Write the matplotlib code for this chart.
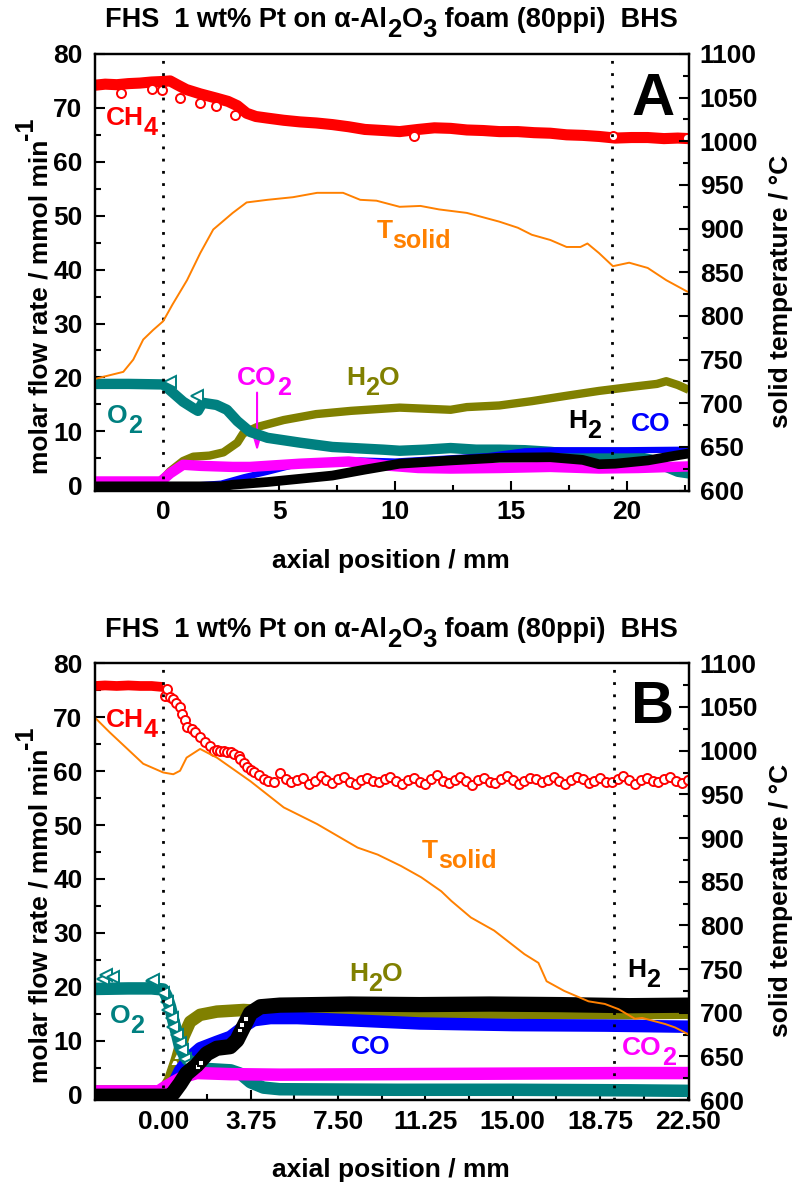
import matplotlib
matplotlib.use('Agg')
import matplotlib.pyplot as plt
from matplotlib.ticker import MultipleLocator
from matplotlib.transforms import offset_copy

plt.rcParams['font.family'] = ['Liberation Sans', 'DejaVu Sans']
plt.rcParams['font.weight'] = 'bold'

# ---------------- panel A data (axial position in mm) ----------------
a_ch4_x = [-2.94, -2.5, -2.0, -1.5, -1.0, -0.5, 0.0, 0.3, 0.6, 1.0, 1.6, 2.3, 2.8, 3.2, 3.6, 4.0,
           4.5, 5.2, 5.9, 6.6, 7.3, 8.0, 8.7, 9.5, 10.2, 11.0, 11.7, 12.4, 13.1, 13.8, 14.5,
           15.3, 16.0, 16.7, 17.4, 18.1, 18.8, 19.5, 20.2, 20.9, 21.6, 22.2, 22.67]
a_ch4 = [74.2, 74.4, 74.3, 74.5, 74.6, 74.8, 74.9, 75.0, 74.3, 73.4, 72.6, 71.8, 71.2, 70.4, 69.0, 68.4,
         68.1, 67.7, 67.4, 67.2, 66.9, 66.5, 66.0, 65.8, 65.6, 66.0, 66.3, 66.2, 65.9, 65.8, 65.6,
         65.6, 65.4, 65.3, 65.0, 64.9, 64.7, 64.4, 64.5, 64.5, 64.3, 64.4, 64.3]
a_ch4_pts_x = [-1.8, -0.5, -0.07, 0.72, 1.58, 2.3, 3.1, 10.8, 19.4, 22.6]
a_ch4_pts = [72.7, 73.5, 73.4, 71.8, 70.9, 70.3, 68.7, 64.7, 64.8, 64.5]

a_o2_x = [-2.94, -1.5, 0.0, 0.3, 0.86, 1.3, 1.5, 1.7, 2.3, 2.75, 3.2, 3.75, 4.5, 5.9, 7.3, 9.5,
          10.2, 11.3, 12.4, 13.5, 14.5, 15.6, 16.7, 18.1, 19.1, 20.3, 21.0, 21.7, 22.2, 22.67]
a_o2 = [18.8, 18.8, 18.7, 17.6, 15.5, 14.3, 13.8, 15.3, 14.9, 14.0, 11.9, 9.9, 8.8, 7.9, 7.1, 6.6,
        6.4, 6.6, 6.9, 6.6, 6.6, 6.5, 6.2, 5.6, 5.2, 5.4, 4.8, 3.4, 2.5, 2.2]
a_o2_pts_x = [0.29, 1.44]
a_o2_pts = [19.2, 16.5]

a_h2o_x = [-2.94, -0.2, 0.0, 0.3, 0.86, 1.3, 2.0, 2.6, 3.2, 3.45, 4.05, 5.2, 6.6, 8.1, 9.5, 10.2,
           11.3, 12.4, 13.1, 14.5, 15.9, 17.4, 18.8, 20.3, 21.3, 21.7, 22.2, 22.67]
a_h2o = [0.6, 0.6, 1.2, 2.6, 4.5, 5.3, 5.5, 6.1, 7.9, 9.6, 10.8, 12.1, 13.2, 13.8, 14.2, 14.4,
         14.2, 14.0, 14.5, 14.8, 15.6, 16.6, 17.5, 18.3, 18.8, 19.3, 18.6, 17.7]

a_co_x = [-2.94, 1.5, 2.5, 3.5, 4.5, 5.5, 7.0, 8.5, 10.0, 12.0, 14.0, 15.6, 17.0, 20.0, 22.67]
a_co = [0.0, 0.0, 0.3, 1.5, 2.5, 3.6, 4.3, 4.6, 4.4, 4.9, 5.4, 6.3, 6.5, 6.5, 6.6]

a_co2_x = [-2.94, -0.1, 0.3, 0.86, 1.6, 3.0, 3.75, 5.9, 8.0, 9.8, 11.0, 12.4, 14.5, 16.7, 18.8, 20.5, 22.67]
a_co2 = [0.7, 0.7, 2.2, 3.8, 3.6, 3.4, 3.4, 4.0, 4.4, 3.6, 3.2, 3.1, 3.2, 3.4, 3.1, 3.2, 3.5]

a_h2_x = [-2.94, 2.5, 3.0, 4.5, 5.9, 7.3, 8.7, 10.2, 12.4, 14.5, 16.7, 18.1, 18.8, 19.5, 20.9, 22.1, 22.67]
a_h2 = [-0.2, -0.2, 0.1, 0.6, 1.2, 1.8, 2.9, 4.0, 4.6, 5.1, 5.2, 4.7, 3.9, 4.0, 4.6, 5.5, 5.9]

a_t_x = [-2.94, -1.72, -1.29, -0.86, -0.43, 0.0, 0.4, 1.03, 1.6, 2.16, 3.0, 3.6, 4.5, 5.6, 6.64,
         7.76, 8.5, 9.2, 10.2, 11.1, 11.9, 13.1, 14.5, 15.3, 15.9, 16.7, 17.4, 18.0, 18.3, 18.8,
         19.4, 20.1, 20.9, 21.7, 22.6]
a_t = [728, 736, 750, 773, 784, 794, 813, 841, 872, 899, 918, 930, 933, 936, 941,
       941, 933, 932, 925, 926, 922, 918, 908, 901, 893, 887, 879, 879, 883, 872,
       857, 861, 855, 841, 828]

# ---------------- panel B data ----------------
b_ch4_x = [-2.9, -2.5, -2.0, -1.5, -1.0, -0.5, 0.0]
b_ch4 = [75.8, 75.9, 75.8, 75.9, 75.8, 75.8, 75.6]
b_ch4_pts_x = [0.07, 0.15, 0.3, 0.43, 0.55, 0.72, 0.79, 0.93, 1.0, 1.22, 1.37, 1.58, 1.8, 2.02,
               2.16, 2.3, 2.44, 2.6, 2.73, 2.9, 3.02, 3.23, 3.3, 3.45, 3.59, 3.75, 3.88, 4.1,
               4.31, 4.5, 4.75,
               5.0, 5.25, 5.5, 5.75, 6.0, 6.25, 6.5, 6.75, 7.0, 7.25, 7.5, 7.75, 8.0, 8.25,
               8.5, 8.75, 9.0, 9.25, 9.5, 9.75, 10.0, 10.25, 10.5, 10.75, 11.0, 11.25, 11.5,
               11.75, 12.0, 12.25, 12.5, 12.75, 13.0, 13.25, 13.5, 13.75, 14.0, 14.25, 14.5,
               14.75, 15.0, 15.25, 15.5, 15.75, 16.0, 16.25, 16.5, 16.75, 17.0, 17.25, 17.5,
               17.75, 18.0, 18.25, 18.5, 18.75, 19.0, 19.25, 19.5, 19.75, 20.0, 20.25, 20.5,
               20.75, 21.0, 21.25, 21.5, 21.75, 22.0, 22.25, 22.5]
b_ch4_pts = [74.0, 75.3, 73.8, 73.4, 72.6, 71.9, 70.6, 69.4, 68.2, 67.8, 67.2, 66.3, 65.4, 64.7,
             63.8, 64.0, 63.8, 63.7, 63.5, 63.6, 63.2, 62.9, 62.3, 61.6, 60.7, 60.3, 59.8, 59.2,
             58.5, 58.1, 58.0,
             59.6, 58.6, 57.9, 58.3, 58.8, 57.7, 58.2, 59.1, 58.4, 57.8, 58.5, 58.9, 58.0,
             57.6, 58.4, 58.7, 58.1, 57.9, 58.6, 59.0, 58.2, 57.7, 58.3, 58.8, 58.0, 57.6,
             58.5, 59.2, 58.1, 57.8, 58.4, 58.9, 58.2, 57.5, 58.3, 58.7, 58.0, 57.8, 58.6,
             59.1, 58.3, 57.6, 58.2, 58.8, 58.5, 57.9, 58.4, 59.0, 58.1, 57.7, 58.3, 58.9,
             58.6, 57.8, 58.2, 58.7, 58.0, 57.9, 58.5, 59.1, 58.3, 57.7, 58.4, 58.8, 58.2,
             57.9, 58.6, 59.0, 58.1, 57.8, 58.4]

b_o2_x = [-2.94, -1.5, -0.5, 0.0, 0.15, 0.29, 0.43, 0.58, 0.72, 0.94, 1.3, 1.72, 2.9, 3.3, 3.74,
          4.3, 5.0, 10.0, 15.0, 20.0, 22.55]
b_o2 = [19.6, 19.7, 19.7, 19.5, 18.2, 16.3, 13.8, 11.4, 8.9, 7.0, 5.5, 4.8, 4.5, 3.9, 2.3,
        1.3, 1.0, 0.9, 0.9, 0.8, 0.7]
b_o2_pts_x = [-2.6, -2.44, -2.16, -0.5, -0.43, 0.0, 0.15, 0.22, 0.36, 0.43, 0.58, 0.72, 0.79, 0.94, 1.1]
b_o2_pts = [21.5, 22.2, 21.9, 21.0, 21.3, 18.8, 17.2, 15.7, 14.2, 12.6, 11.0, 9.5, 8.2, 6.7, 5.8]

b_h2o_x = [-2.94, 0.0, 0.29, 0.58, 0.86, 1.15, 1.58, 2.3, 3.45, 5.0, 10.0, 15.0, 20.0, 22.55]
b_h2o = [0.6, 0.6, 2.7, 6.4, 10.7, 13.5, 14.8, 15.4, 15.7, 15.3, 15.2, 15.2, 15.1, 15.2]
b_h2o_pts_x = [0.5, 0.62]
b_h2o_pts = [6.2, 7.4]

b_co_x = [-2.94, 0.2, 0.43, 0.72, 1.15, 1.58, 2.3, 2.87, 3.45, 3.88, 4.6, 5.75, 8.0, 11.0, 15.0, 19.0, 22.55]
b_co = [0.0, 0.0, 2.0, 4.5, 7.0, 8.6, 9.8, 10.7, 12.6, 13.8, 14.2, 14.2, 13.8, 13.2, 12.9, 12.8, 12.6]

b_co2_x = [-2.94, -0.2, 0.0, 0.43, 0.86, 1.44, 2.87, 5.0, 10.0, 15.0, 20.0, 22.55]
b_co2 = [0.6, 0.6, 1.2, 2.3, 3.3, 4.0, 3.8, 3.7, 3.8, 3.9, 4.0, 4.0]

b_h2_x = [-2.94, 0.3, 0.43, 0.72, 1.0, 1.44, 1.87, 2.3, 2.87, 3.16, 3.45, 3.74, 4.17, 5.0, 8.0,
          11.0, 14.0, 17.0, 20.0, 22.55]
b_h2 = [-0.3, -0.3, 0.3, 2.0, 3.9, 5.5, 7.6, 8.6, 8.9, 10.1, 12.6, 15.1, 16.3, 16.6, 16.8,
        16.7, 16.8, 16.7, 16.5, 16.6]
b_h2_pts_x = [1.5, 1.6, 3.3, 3.38, 3.55]
b_h2_pts = [5.1, 5.8, 12.0, 12.9, 14.0]

b_t_x = [-2.94, -2.3, -1.58, -0.86, 0.0, 0.43, 0.72, 1.0, 1.58, 2.3, 3.74, 5.17, 6.6, 8.34, 9.2,
         10.2, 11.07, 11.93, 12.36, 13.2, 14.2, 15.5, 16.1, 16.45, 17.2, 18.25, 18.95, 19.54,
         20.24, 20.55, 21.54, 21.97, 22.55]
b_t = [1038, 1021, 1003, 985, 975, 973, 977, 992, 1002, 992, 965, 935, 916, 889, 881,
       868, 855, 839, 828, 809, 794, 767, 757, 736, 725, 713, 710, 704,
       693, 694, 687, 683, 675]

RED = '#ff0000'
TEAL = '#008080'
OLIVE = '#808000'
BLUE = '#0000ff'
MAGENTA = '#ff00ff'
ORANGE = '#ff8000'

FS = 19
SUB = -10   # subscript drop in pixels
SUP = 15    # superscript rise in pixels

fig = plt.figure(figsize=(7.99, 11.86), dpi=100)
axA = fig.add_axes([0.1189, 0.5863, 0.7431, 0.3682])
axB = fig.add_axes([0.1189, 0.0725, 0.7431, 0.3682])
renderer = fig.canvas.get_renderer()


def rich(host, trans, x, y, parts, color='black', ha='left', rot=0, z=10, size=FS):
    # parts: (text, vertical shift in px, size factor); Origin style full-size sub/superscripts
    widths = []
    for s, dy, sc in parts:
        t = fig.text(0, 0, s, fontsize=size * sc)
        widths.append(t.get_window_extent(renderer).width)
        t.remove()
    pos = -sum(widths) / 2 if ha == 'center' else 0
    for (s, dy, sc), w in zip(parts, widths):
        if rot == 0:
            tr = offset_copy(trans, fig=fig, x=pos, y=dy, units='dots')
        else:
            tr = offset_copy(trans, fig=fig, x=-dy, y=pos, units='dots')
        host.text(x, y, s, transform=tr, fontsize=size * sc, color=color, rotation=rot,
                  ha='left', va='baseline', rotation_mode='anchor', zorder=z)
        pos += w


def style_axes(ax, tx, xmaj, xmin, xfmt):
    ax.set_ylim(-1, 80)
    ax.yaxis.set_major_locator(MultipleLocator(10))
    ax.yaxis.set_minor_locator(MultipleLocator(5))
    ax.xaxis.set_major_locator(MultipleLocator(xmaj))
    ax.xaxis.set_minor_locator(MultipleLocator(xmin))
    ax.xaxis.set_major_formatter(xfmt)
    ax.tick_params(which='both', direction='in', width=1.5, labelsize=FS, top=False, right=False)
    ax.tick_params(which='major', length=7)
    ax.tick_params(which='minor', length=4)
    ax.tick_params(axis='x', pad=7)
    ax.tick_params(axis='y', pad=9)
    for s in ax.spines.values():
        s.set_linewidth(1.6)
    tx.set_ylim(600, 1100)
    tx.yaxis.set_major_locator(MultipleLocator(50))
    tx.yaxis.set_minor_locator(MultipleLocator(25))
    tx.tick_params(which='both', direction='in', width=1.5, labelsize=FS, pad=8)
    tx.tick_params(which='major', length=7)
    tx.tick_params(which='minor', length=4)
    for s in tx.spines.values():
        s.set_linewidth(1.6)


def band(ax, x, y, c, lw, z):
    ax.plot(x, y, color=c, lw=lw, solid_capstyle='butt', solid_joinstyle='round', zorder=z)


def pts(ax, x, y, c, m, z, ms=6.5):
    ax.plot(x, y, ls='none', marker=m, ms=ms, mfc='white', mec=c, mew=1.4, zorder=z)


def label(ax, x, y, main, sub='', color='black', tail=''):
    parts = [(main, 0, 1)]
    if sub:
        parts.append((sub, SUB, 0.95))
    if tail:
        parts.append((tail, 0, 1))
    rich(ax, ax.transData, x, y, parts, color=color)


# ---------------- panel A ----------------
txA = axA.twinx()
axA.set_xlim(-2.94, 22.67)
style_axes(axA, txA, 5, 2.5, '{x:g}')

band(axA, a_ch4_x, a_ch4, RED, 8, 2)
pts(axA, a_ch4_pts_x, a_ch4_pts, RED, 'o', 2.1)
band(axA, a_h2o_x, a_h2o, OLIVE, 6, 3)
band(axA, a_o2_x, a_o2, TEAL, 7.5, 4)
pts(axA, a_o2_pts_x, a_o2_pts, TEAL, '<', 4.1, 8)
band(axA, a_co_x, a_co, BLUE, 4.5, 5)
band(axA, a_co2_x, a_co2, MAGENTA, 7.5, 6)
band(axA, a_h2_x, a_h2, 'black', 7, 7)
for xv in (0.0, 19.38):
    axA.axvline(xv, color='black', lw=2, ls=(0, (1, 3.4)), zorder=9)
txA.plot(a_t_x, a_t, color=ORANGE, lw=1.4)

label(axA, -2.47, 66.9, 'CH', '4', RED)
label(axA, 9.2, 45.8, 'T', 'solid', ORANGE)
label(axA, -2.41, 11.5, 'O', '2', TEAL)
label(axA, 3.19, 18.6, 'CO', '2', MAGENTA)
label(axA, 7.9, 18.6, 'H', '2', OLIVE, 'O')
label(axA, 17.46, 10.6, 'H', '2', 'black')
label(axA, 20.19, 10.0, 'CO', '', BLUE)
axA.annotate('', xy=(4.05, 5.8), xytext=(4.05, 17.7),
             arrowprops=dict(arrowstyle='-|>,head_length=0.7,head_width=0.2',
                             color=MAGENTA, lw=1.5, mutation_scale=15))
axA.text(0.9407, 0.860, 'A', transform=axA.transAxes, fontsize=43, ha='center', va='baseline')

# ---------------- panel B ----------------
txB = axB.twinx()
axB.set_xlim(-2.93, 22.55)
style_axes(axB, txB, 3.75, 1.875, '{x:.2f}')

band(axB, b_ch4_x, b_ch4, RED, 7, 2)
pts(axB, b_ch4_pts_x, b_ch4_pts, RED, 'o', 2.1)
band(axB, b_h2o_x, b_h2o, OLIVE, 9, 3)
pts(axB, b_h2o_pts_x, b_h2o_pts, OLIVE, '^', 3.1, 7)
band(axB, b_co_x, b_co, BLUE, 9, 4)
band(axB, b_o2_x, b_o2, TEAL, 9, 5)
pts(axB, b_o2_pts_x, b_o2_pts, TEAL, '<', 5.1, 8)
band(axB, b_co2_x, b_co2, MAGENTA, 9, 6)
band(axB, b_h2_x, b_h2, 'black', 11, 7)
pts(axB, b_h2_pts_x, b_h2_pts, 'black', 's', 7.1, 5)
for xv in (0.0, 19.35):
    axB.axvline(xv, color='black', lw=2, ls=(0, (1, 3.4)), zorder=9)
txB.plot(b_t_x, b_t, color=ORANGE, lw=1.4)

label(axB, -2.47, 68.2, 'CH', '4', RED)
label(axB, 11.1, 43.9, 'T', 'solid', ORANGE)
label(axB, -2.3, 13.2, 'O', '2', TEAL)
label(axB, 7.97, 21.0, 'H', '2', OLIVE, 'O')
label(axB, 8.05, 7.6, 'CO', '', BLUE)
label(axB, 19.9, 21.9, 'H', '2', 'black')
label(axB, 19.69, 7.3, 'CO', '2', MAGENTA)
axB.text(0.939, 0.863, 'B', transform=axB.transAxes, fontsize=43, ha='center', va='baseline')

# ---------------- titles and axis labels ----------------
title_parts = [('FHS  1 wt% Pt on \u03b1-Al', 0, 1), ('2', SUB, 0.95), ('O', 0, 1),
               ('3', SUB, 0.95), (' foam (80ppi)  BHS', 0, 1)]
ylab_parts = [('molar flow rate / mmol min', 0, 1), ('-1', SUP, 0.95)]
for base, off in ((26.7, 0), (637.3, 609)):
    rich(fig, fig.transFigure, 391.5 / 799, 1 - base / 1186, title_parts, ha='center', size=19.5)
    rich(fig, fig.transFigure, 48 / 799, 1 - (296 + off) / 1186, ylab_parts, ha='center', rot=90)
    fig.text(781 / 799, 1 - (291 + off) / 1186, 'solid temperature / \u00b0C',
             rotation=90, ha='center', va='center', fontsize=FS)
fig.text(391 / 799, 1 - 568 / 1186, 'axial position / mm', ha='center', va='baseline', fontsize=FS)
fig.text(391 / 799, 1 - 1177 / 1186, 'axial position / mm', ha='center', va='baseline', fontsize=FS)

fig.savefig('out.png', dpi=100)
